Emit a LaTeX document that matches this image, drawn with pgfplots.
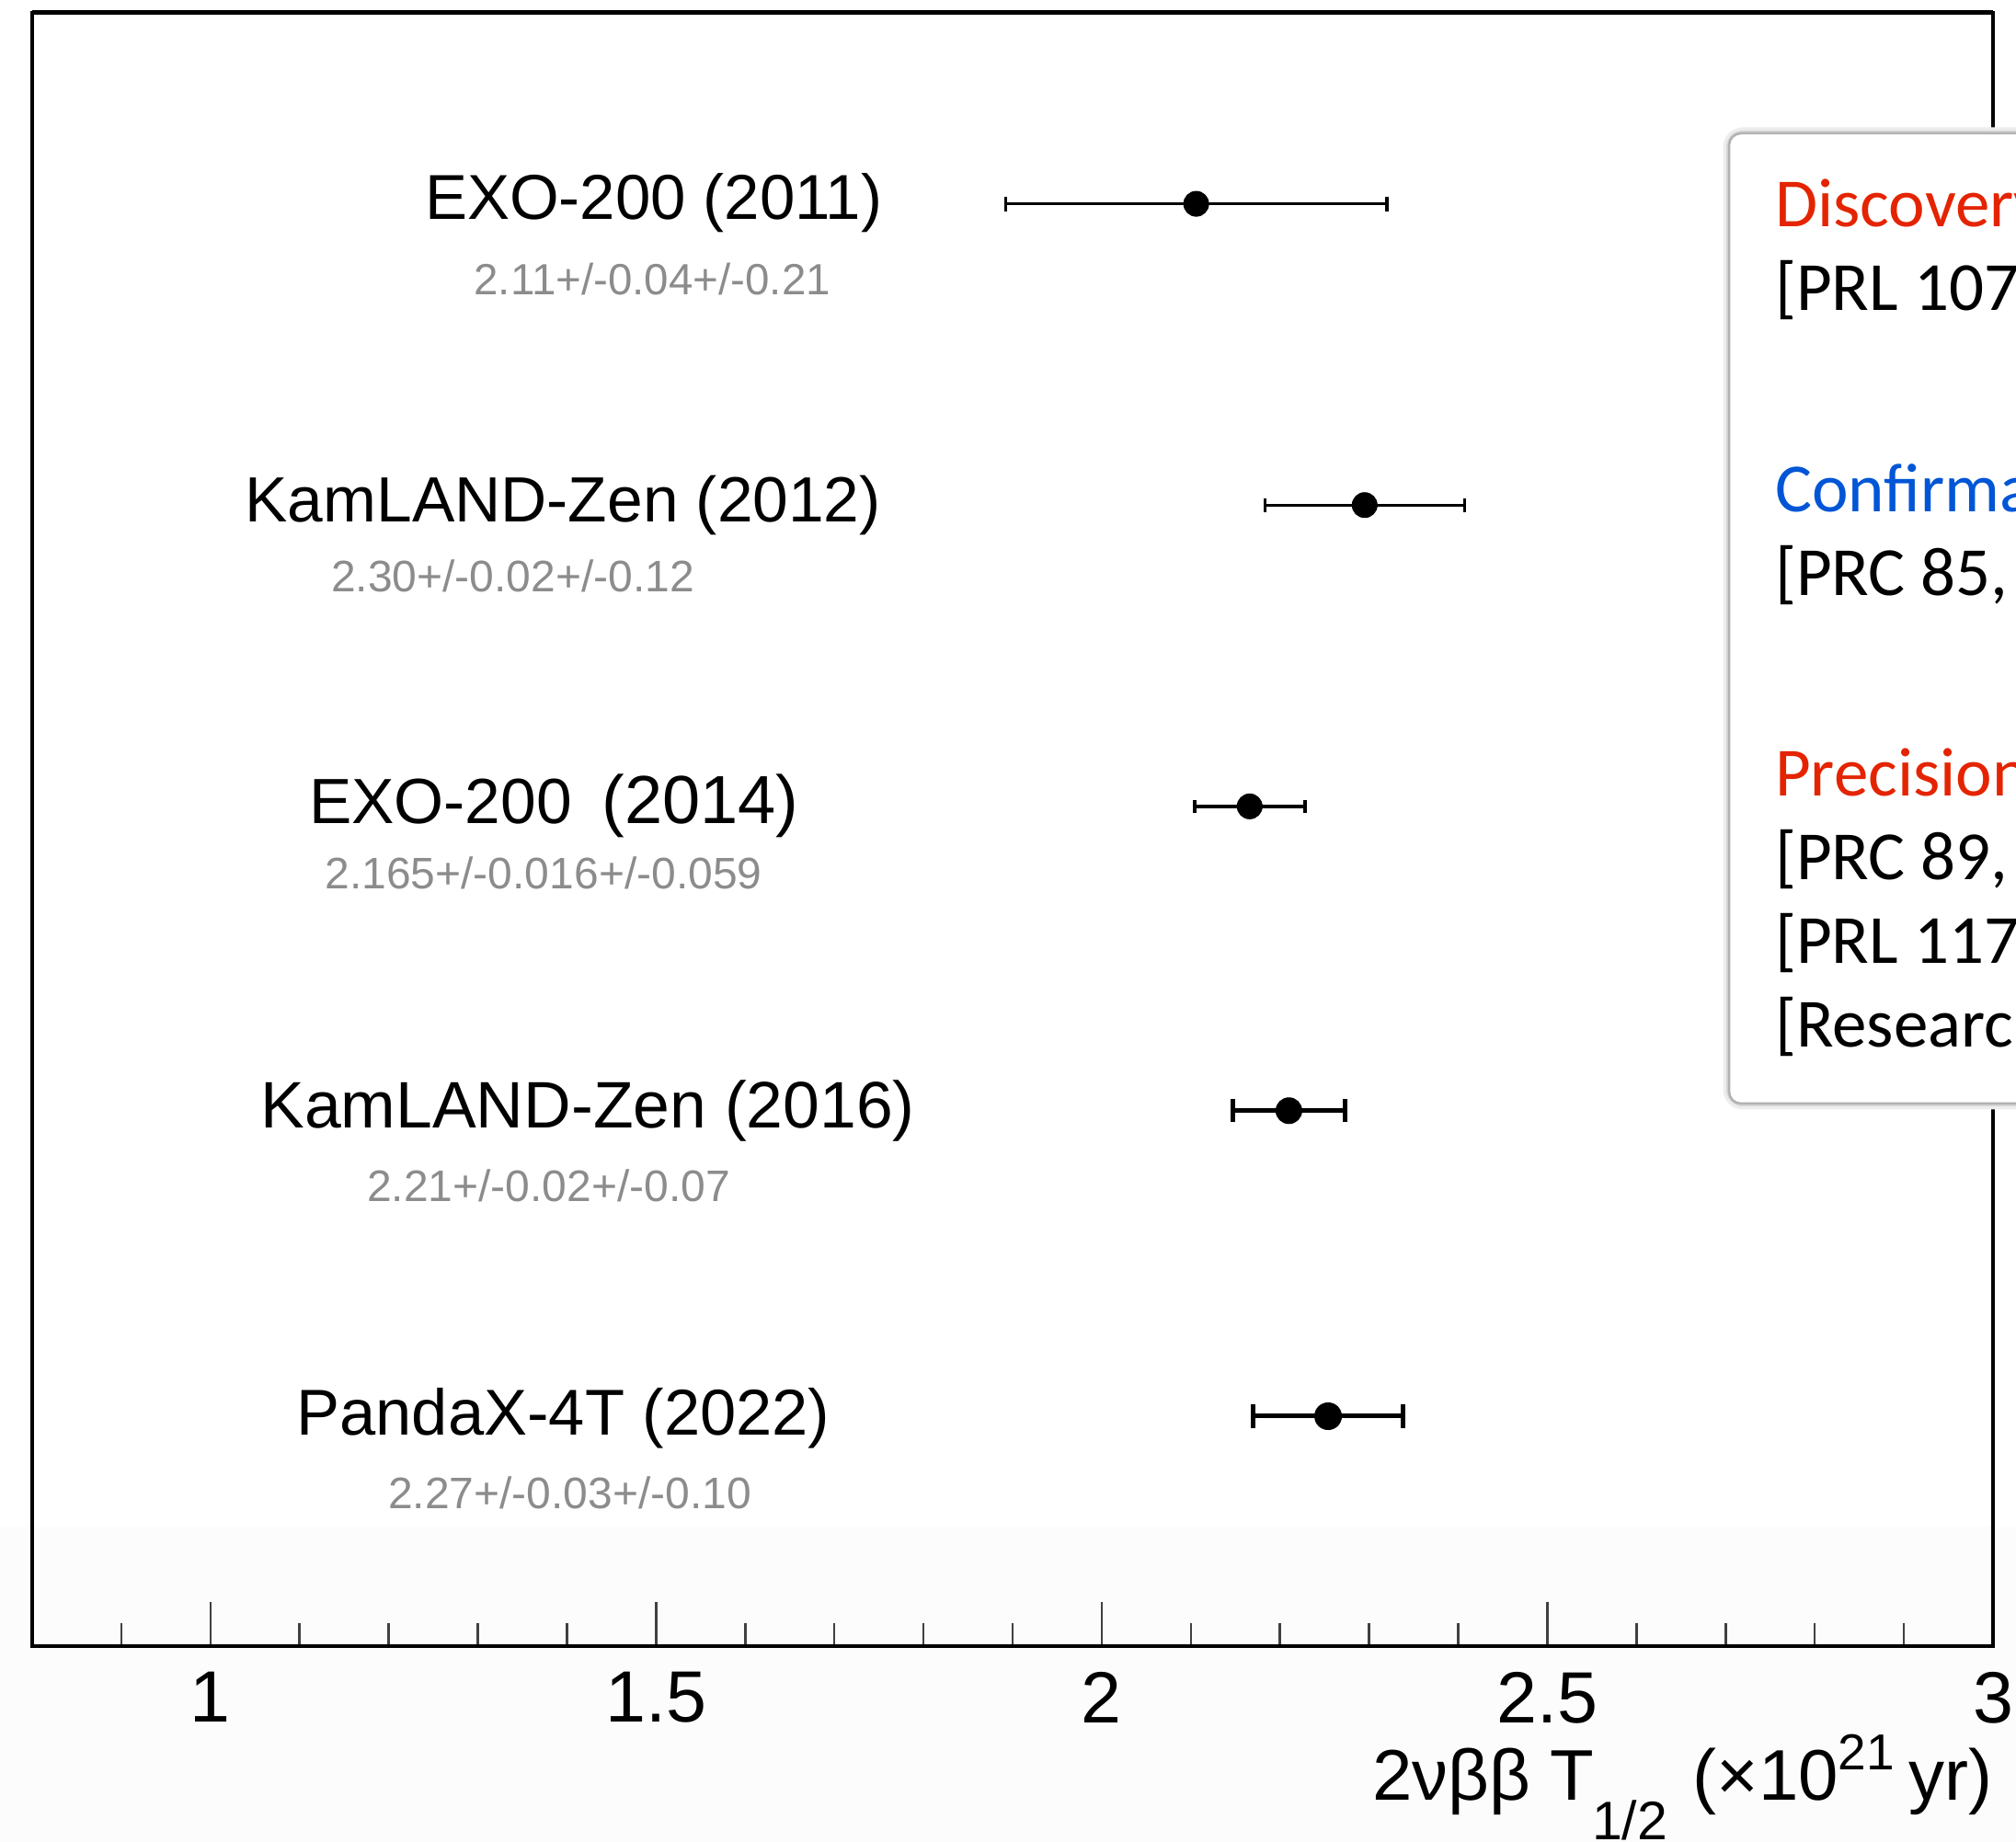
\documentclass[border=0pt]{standalone}
\usepackage{fontspec}
\setmainfont{Liberation Sans}
\newfontfamily\calibri{Carlito}
\usepackage{pgfplots}
\pgfplotsset{compat=1.18}
\definecolor{valgray}{RGB}{140,140,140}
\definecolor{discred}{RGB}{228,36,0}
\definecolor{confblue}{RGB}{0,86,214}
\begin{document}
\begin{tikzpicture}
\fill[black!1.2] (-7pt,-42.6pt) rectangle (431.4pt,26pt);
\begin{axis}[at={(0pt,0pt)}, anchor=south west, scale only axis,
  width=426.4pt, height=355.2pt,
  xmin=0.8, xmax=3.0, ymin=0.2415, ymax=5.630,
  xtick={1,1.5,2,2.5,3},
  minor xtick={0.9,1.1,1.2,1.3,1.4,1.6,1.7,1.8,1.9,2.1,2.2,2.3,2.4,2.6,2.7,2.8,2.9},
  ytick=\empty, xtick pos=left, tick align=inside,
  major tick length=9.6pt, minor tick length=5pt,
  tick style={black!75, line width=0.5pt},
  axis line style={line width=0.8pt},
  xticklabel style={font=\fontsize{15.8}{18}\selectfont, anchor=north, inner sep=0pt, yshift=-5.4pt},
  /pgf/number format/assume math mode=true,
  clip=false]
% EXO-200 (2011)
\addplot[only marks, mark=*, mark size=2.7pt, black, mark options={fill=black, draw=black, line width=0.2pt},
  error bars/.cd, x dir=both, x explicit,
  error bar style={line width=0.66pt, black},
  error mark options={rotate=90, line width=0.66pt, mark size=1.6pt, black}]
  coordinates {(2.106,5.0) +- (0.214,0)};
% KamLAND-Zen (2012)
\addplot[only marks, mark=*, mark size=2.7pt, black, mark options={fill=black, draw=black, line width=0.2pt},
  error bars/.cd, x dir=both, x explicit,
  error bar style={line width=0.66pt, black},
  error mark options={rotate=90, line width=0.66pt, mark size=1.5pt, black}]
  coordinates {(2.295,4.006) +- (0.112,0)};
% EXO-200 (2014)
\addplot[only marks, mark=*, mark size=2.7pt, black, mark options={fill=black, draw=black, line width=0.2pt},
  error bars/.cd, x dir=both, x explicit,
  error bar style={line width=0.8pt, black},
  error mark options={rotate=90, line width=0.8pt, mark size=1.4pt, black}]
  coordinates {(2.166,3.012) +- (0.062,0)};
% KamLAND-Zen (2016)
\addplot[only marks, mark=*, mark size=2.8pt, black, mark options={fill=black, draw=black, line width=0.2pt},
  error bars/.cd, x dir=both, x explicit,
  error bar style={line width=1pt, black},
  error mark options={rotate=90, line width=1pt, mark size=2.5pt, black}]
  coordinates {(2.210,2.008) +- (0.063,0)};
% PandaX-4T (2022)
\addplot[only marks, mark=*, mark size=2.9pt, black, mark options={fill=black, draw=black, line width=0.2pt},
  error bars/.cd, x dir=both, x explicit,
  error bar style={line width=1pt, black},
  error mark options={rotate=90, line width=1pt, mark size=2.6pt, black}]
  coordinates {(2.254,1.0) +- (0.084,0)};
\end{axis}
\draw[line width=1pt] (0pt,355.2pt) -- (426.4pt,355.2pt);
% x label
\node[anchor=base east, inner sep=0pt, font=\fontsize{15.6}{18}\selectfont] at (426.4pt,-33.6pt)
  {2νββ T\kern-0.5pt\raisebox{-8.6pt}{\fontsize{11.8}{13}\selectfont 1/2}\hspace{5.5pt}(×10\raisebox{6.6pt}{\fontsize{11}{13}\selectfont 21}\hspace{3pt}yr)};
% experiment labels
\node[anchor=west, inner sep=0pt, font=\fontsize{13.8}{16}\selectfont] at (85.2pt,313.8pt) {EXO-200 (2011)};
\node[anchor=west, inner sep=0pt, text=valgray, font=\fontsize{9.5}{11}\selectfont] at (95.9pt,297.3pt) {2.11+/-0.04+/-0.21};
\node[anchor=west, inner sep=0pt, font=\fontsize{13.9}{16}\selectfont] at (46.1pt,248.1pt) {KamLAND-Zen (2012)};
\node[anchor=west, inner sep=0pt, text=valgray, font=\fontsize{9.6}{11}\selectfont] at (64.8pt,232.7pt) {2.30+/-0.02+/-0.12};
\node[anchor=west, inner sep=0pt] at (60.0pt,182.7pt) {{\fontsize{13.9}{16}\selectfont EXO-200}\hspace{6.5pt}{\fontsize{14.8}{17}\selectfont (2014)}};
\node[anchor=west, inner sep=0pt, text=valgray, font=\fontsize{9.6}{11}\selectfont] at (63.5pt,168.2pt) {2.165+/-0.016+/-0.059};
\node[anchor=west, inner sep=0pt, font=\fontsize{14.3}{17}\selectfont] at (49.5pt,116.4pt) {KamLAND-Zen (2016)};
\node[anchor=west, inner sep=0pt, text=valgray, font=\fontsize{9.6}{11}\selectfont] at (72.6pt,100.2pt) {2.21+/-0.02+/-0.07};
\node[anchor=west, inner sep=0pt, font=\fontsize{14.1}{17}\selectfont] at (57.3pt,49.6pt) {PandaX-4T (2022)};
\node[anchor=west, inner sep=0pt, text=valgray, font=\fontsize{9.6}{11}\selectfont] at (77.2pt,33.4pt) {2.27+/-0.03+/-0.10};
% info box
\draw[black!7, line width=2.6pt, rounded corners=3pt] (369pt,118pt) rectangle (480pt,329pt);
\draw[black!16, line width=1.2pt, rounded corners=3pt] (369pt,118pt) rectangle (480pt,329pt);
\filldraw[fill=white, draw=black!30, line width=0.5pt, rounded corners=2.6pt] (369pt,118pt) rectangle (480pt,329pt);
\begin{scope}[every node/.style={anchor=base west, inner sep=0pt, font=\calibri\fontsize{15}{18}\selectfont}]
\node[text=discred] at (378.8pt,308.6pt) {Discovery (EXO-200)};
\node at (378.8pt,290.4pt) {[PRL 107, 212501 (2011)]};
\node[text=confblue] at (378.8pt,246.6pt) {Confirmation (KamLAND-Zen)};
\node at (378.8pt,228.4pt) {[PRC 85, 045504 (2012)]};
\node[text=discred] at (378.8pt,184.8pt) {Precision measurement};
\node at (378.8pt,166.6pt) {[PRC 89, 015502 (2014)]};
\node at (378.8pt,148.4pt) {[PRL 117, 082503 (2016)]};
\node at (378.8pt,130.2pt) {[Research 2022, 9798721 (2022)]};
\end{scope}
\pgfresetboundingbox
\useasboundingbox (-7pt,-42.6pt) rectangle (431.4pt,358pt);
\end{tikzpicture}
\end{document}
